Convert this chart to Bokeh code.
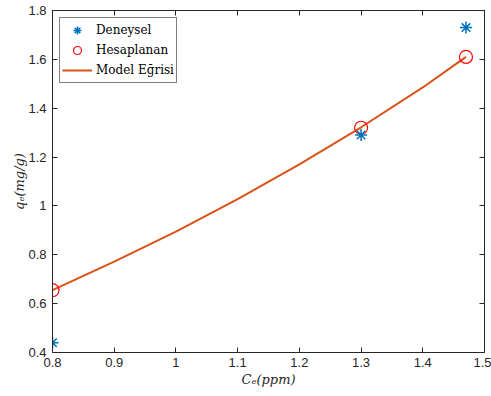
from bokeh.plotting import figure
from bokeh.models import LinearAxis, FixedTicker, Legend, LegendItem, Range1d
from bokeh.embed import file_html
from bokeh.resources import INLINE

# data
ce = [0.8, 1.3, 1.47]
q_deneysel = [0.44, 1.29, 1.73]
q_hesaplanan = [0.655, 1.32, 1.61]
model_x = [0.8, 0.9, 1.0, 1.1, 1.2, 1.3, 1.4, 1.47]
model_y = [0.655, 0.772, 0.895, 1.028, 1.170, 1.322, 1.485, 1.61]

x_ticks = [0.8, 0.9, 1.0, 1.1, 1.2, 1.3, 1.4, 1.5]
x_tick_labels = ["0.8", "0.9", "1", "1.1", "1.2", "1.3", "1.4", "1.5"]
y_ticks = [0.4, 0.6, 0.8, 1.0, 1.2, 1.4, 1.6, 1.8]
y_tick_labels = ["0.4", "0.6", "0.8", "1", "1.2", "1.4", "1.6", "1.8"]

AX = "#262626"

p = figure(width=491, height=396, output_backend="svg", toolbar_location=None,
           x_range=Range1d(0.8, 1.5), y_range=Range1d(0.4, 1.8),
           min_border_left=52, min_border_top=10, min_border_right=7, min_border_bottom=44)
p.xgrid.visible = False
p.ygrid.visible = False
p.outline_line_color = AX
p.outline_line_width = 1
p.background_fill_color = "white"
p.border_fill_color = "white"

def style(ax, ticks, labels, show_labels=True):
    ax.ticker = FixedTicker(ticks=ticks)
    if show_labels:
        ax.major_label_overrides = {t: l for t, l in zip(ticks, labels)}
    else:
        ax.major_label_overrides = {t: "" for t in ticks}
    ax.major_tick_in = 5
    ax.major_tick_out = 0
    ax.minor_tick_line_color = None
    ax.axis_line_color = AX
    ax.major_tick_line_color = AX
    ax.major_label_text_color = AX
    ax.major_label_text_font = "Liberation Sans"
    ax.major_label_text_font_size = "13px"
    ax.major_label_standoff = 5

style(p.xaxis[0], x_ticks, x_tick_labels)
style(p.yaxis[0], y_ticks, y_tick_labels)
p.yaxis[0].major_label_standoff = 6
p.xaxis[0].axis_label = "Cₑ(ppm)"
p.yaxis[0].axis_label = "qₑ(mg/g)"
for ax in (p.xaxis[0], p.yaxis[0]):
    ax.axis_label_text_font = "DejaVu Serif"
    ax.axis_label_text_font_style = "italic"
    ax.axis_label_text_font_size = "13px"
    ax.axis_label_text_color = AX
p.xaxis[0].axis_label_standoff = 2
p.yaxis[0].axis_label_standoff = -2

top = LinearAxis()
right = LinearAxis()
style(top, x_ticks, x_tick_labels, False)
style(right, y_ticks, y_tick_labels, False)
top.major_label_standoff = 0
right.major_label_standoff = 0
p.add_layout(top, "above")
p.add_layout(right, "right")

r_line = p.line(model_x, model_y, line_color="#D95319", line_width=2)
r_circ = p.scatter(ce, q_hesaplanan, marker="circle", size=13, fill_color=None,
                   line_color="#FF0000", line_width=1.2)
r_star = p.scatter(ce, q_deneysel, marker="asterisk", size=12, line_color="#0072BD",
                   line_width=1.5)

legend = Legend(items=[LegendItem(label="Deneysel", renderers=[r_star]),
                       LegendItem(label="Hesaplanan", renderers=[r_circ]),
                       LegendItem(label="Model Eğrisi", renderers=[r_line])],
                location="top_left")
legend.label_text_font = "DejaVu Serif"
legend.label_text_font_size = "12px"
legend.label_text_color = "black"
legend.border_line_color = "black"
legend.border_line_width = 1
legend.background_fill_alpha = 1
legend.margin = 7
legend.padding = 2
legend.spacing = -3
legend.glyph_height = 20
legend.label_height = 20
legend.glyph_width = 30
legend.label_standoff = 4
p.add_layout(legend, "center")

open("out.html", "w").write(file_html(p, INLINE))
